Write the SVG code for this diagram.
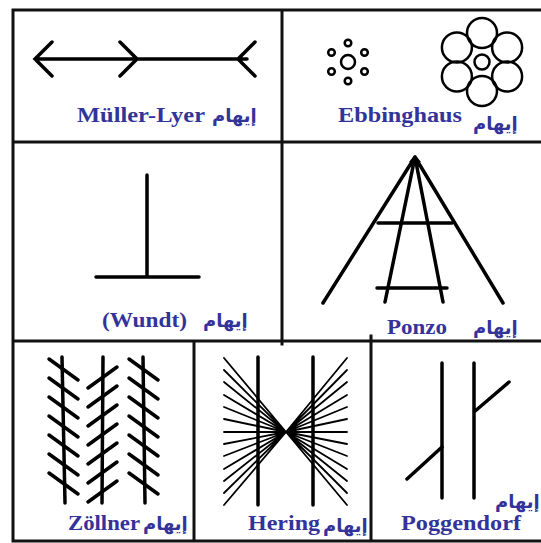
<svg xmlns="http://www.w3.org/2000/svg" width="541" height="543" viewBox="0 0 541 543">
<style>
.frame{stroke:#111;stroke-width:3;fill:none;stroke-linecap:square}
.ln{stroke:#000;fill:none;stroke-width:3.5;stroke-linecap:round}
.thin{stroke:#000;fill:none;stroke-width:1.8;stroke-linecap:round}
.ring{stroke:#000;fill:none;stroke-width:2.5}
.en{font-family:"Liberation Serif","Times New Roman",serif;font-weight:bold;fill:#33339a}
.ar{font-family:"DejaVu Sans",sans-serif;font-weight:bold;fill:#33339a;font-size:18px}
</style>
<rect width="541" height="543" fill="#fff"/>
<g id="frame">
<path class="frame" d="M13 10H545M13 10V541H545M13 142H545M13 341H545M282 10V344M194 341V541M371 336V541"/>
</g>
<g id="muller-lyer">
<path class="ln" d="M35 59H247M52 42L35 59L52 76M120 42L137 59L120 76M255 42L238 59L255 76"/>
<text class="en" x="77" y="122" font-size="20" textLength="128" lengthAdjust="spacingAndGlyphs">Müller-Lyer</text>
<text class="ar" x="212" y="122">إيهام</text>
</g>
<g id="ebbinghaus">
<circle class="ring" cx="348" cy="62" r="7"/>
<g class="ring" stroke-width="2">
<circle cx="348" cy="43" r="3.3"/><circle cx="364.5" cy="52.5" r="3.3"/><circle cx="364.5" cy="71.5" r="3.3"/>
<circle cx="348" cy="81" r="3.3"/><circle cx="331.5" cy="71.5" r="3.3"/><circle cx="331.5" cy="52.5" r="3.3"/>
</g>
<circle class="ring" cx="482" cy="62" r="7.5"/>
<circle class="ring" cx="482" cy="33" r="15"/><circle class="ring" cx="507.1" cy="47.5" r="15"/><circle class="ring" cx="507.1" cy="76.5" r="15"/>
<circle class="ring" cx="482" cy="91" r="15"/><circle class="ring" cx="456.9" cy="76.5" r="15"/><circle class="ring" cx="456.9" cy="47.5" r="15"/>
<text class="en" x="338" y="122" font-size="20" textLength="124" lengthAdjust="spacingAndGlyphs">Ebbinghaus</text>
<text class="ar" x="473" y="130">إيهام</text>
</g>
<g id="wundt">
<path class="ln" d="M147 175V277M96 277H199"/>
<text class="en" x="102" y="327" font-size="20" textLength="85" lengthAdjust="spacingAndGlyphs">(Wundt)</text>
<text class="ar" x="203" y="327">إيهام</text>
</g>
<g id="ponzo">
<path d="M409 162L415 155L421 162Z" fill="#000"/>
<path class="ln" d="M415 157L323 303M415 157L503 303M415 157L385 302M415 157L443 302"/>
<path class="ln" stroke-width="5" d="M378 223H452"/>
<path class="ln" stroke-width="6" d="M377 288H447"/>
<text class="en" x="387" y="334" font-size="20" textLength="60" lengthAdjust="spacingAndGlyphs">Ponzo</text>
<text class="ar" x="473" y="334">إيهام</text>
</g>
<g id="zollner">
<path class="ln" d="M62 357L65 503M103 357L102 503M143 357L145 503"/>
<path class="ln" d="M49 359L78 380M49 378L78 399M49 397L78 418M49 416L78 437M49 435L78 456M49 454L78 475M49 473L78 494"/>
<path class="ln" d="M88 388L117 367M88 407L117 386M88 426L117 405M88 445L117 424M88 464L117 443M88 483L117 462M88 502L117 481"/>
<path class="ln" d="M129 359L158 380M129 378L158 399M129 397L158 418M129 416L158 437M129 435L158 456M129 454L158 475M129 473L158 494"/>
<text class="en" x="68" y="530" font-size="21" textLength="72" lengthAdjust="spacingAndGlyphs">Zöllner</text>
<text class="ar" x="143" y="530">إيهام</text>
</g>
<g id="hering">
<path class="ln" d="M258 357V505M313 357V505"/>
<path class="thin" d="M286 432L224 358M286 432L224 370M286 432L224 382M286 432L224 395M286 432L224 407M286 432L224 419M286 432L224 432M286 432L224 444M286 432L224 456M286 432L224 469M286 432L224 481M286 432L224 493M286 432L224 505"/>
<path class="thin" d="M286 432L347 358M286 432L347 370M286 432L347 382M286 432L347 395M286 432L347 407M286 432L347 419M286 432L347 432M286 432L347 444M286 432L347 456M286 432L347 469M286 432L347 481M286 432L347 493M286 432L347 505"/>
<text class="en" x="248" y="530" font-size="22" textLength="72" lengthAdjust="spacingAndGlyphs">Hering</text>
<text class="ar" x="323" y="532">إيهام</text>
</g>
<g id="poggendorf">
<path class="ln" stroke-width="5" d="M442 363V498"/>
<path class="ln" stroke-width="4" d="M474 363V498M407 479L442 447M474 412L509 382"/>
<text class="en" x="401" y="530" font-size="22" textLength="120" lengthAdjust="spacingAndGlyphs">Poggendorf</text>
<text class="ar" x="495" y="508">إيهام</text>
</g>
</svg>
